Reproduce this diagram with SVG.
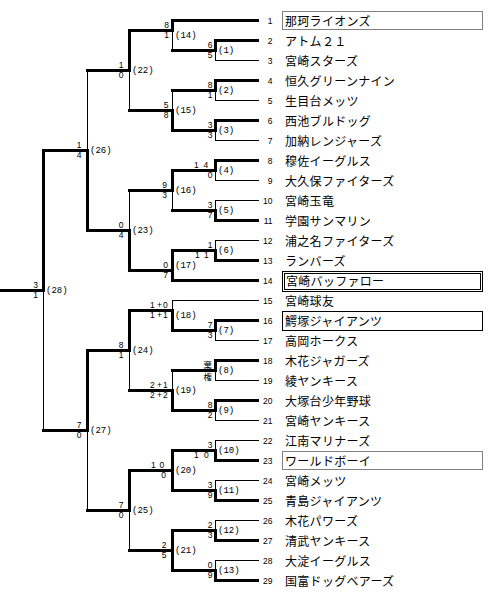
<svg xmlns="http://www.w3.org/2000/svg" width="500" height="601" viewBox="0 0 500 601">
<style>
.t{stroke:#000;stroke-width:1;fill:none;stroke-linecap:square}
.k{stroke:#000;stroke-width:3;fill:none;stroke-linecap:square;stroke-linejoin:miter}
.n{font-family:"Liberation Sans",Arial,sans-serif;font-size:8.5px;text-anchor:end;fill:#000}
.nm{font-family:"Noto Sans CJK JP",sans-serif;font-size:12px;fill:#000;letter-spacing:0.3px}
.s{font-family:"Liberation Sans",Arial,sans-serif;font-size:8.5px;text-anchor:end;fill:#000}
.sp{font-family:"Liberation Sans",Arial,sans-serif;font-size:8.5px;fill:#000}
.kj{font-family:"Noto Sans CJK JP",sans-serif;font-size:8.5px;text-anchor:end;fill:#000}
.l{font-family:"Liberation Mono","Courier New",monospace;font-size:9px;fill:#000}
.bx{fill:none;stroke:#000;stroke-width:1}
.dt{stroke-dasharray:1 1}
</style>
<rect width="500" height="601" fill="#fff"/>
<g id="connectors">
<path class="t" d="M215.5 40.5V60.5M215.5 80.5V100.5M215.5 120.5V140.5M215.5 160.5V180.5M215.5 200.5V220.5M215.5 240.5V260.5M215.5 320.5V340.5M215.5 360.5V380.5M215.5 400.5V420.5M215.5 440.5V460.5M215.5 480.5V500.5M215.5 520.5V540.5M215.5 560.5V580.5M172.5 20.5V50.5M172.5 90.5V130.5M172.5 170.5V210.5M172.5 250.5V280.5M172.5 300.5V330.5M172.5 370.5V410.5M172.5 450.5V490.5M172.5 530.5V570.5M129.5 30.5V110.5M129.5 190.5V270.5M129.5 310.5V390.5M129.5 470.5V550.5M87.5 70.5V230.5M87.5 350.5V510.5M43.5 150.5V430.5"/>
<path class="t" d="M215.5 60.5H258.5M215.5 100.5H258.5M215.5 140.5H258.5M215.5 180.5H258.5M215.5 200.5H258.5M215.5 240.5H258.5M172.5 300.5H258.5M215.5 340.5H258.5M215.5 380.5H258.5M215.5 420.5H258.5M215.5 440.5H258.5M215.5 480.5H258.5M215.5 520.5H258.5M215.5 560.5H258.5"/>
<path class="k" d="M172.5 20.5H257.5M215.5 40.5H257.5M215.5 80.5H257.5M215.5 120.5H257.5M215.5 160.5H257.5M215.5 220.5H257.5M215.5 260.5H257.5M172.5 280.5H257.5M215.5 320.5H257.5M215.5 360.5H257.5M215.5 400.5H257.5M215.5 460.5H257.5M215.5 500.5H257.5M215.5 540.5H257.5M215.5 580.5H257.5"/>
<path class="k" d="M215.5 40.5V50.5M215.5 80.5V90.5M215.5 120.5V130.5M215.5 160.5V170.5M215.5 210.5V220.5M215.5 250.5V260.5M215.5 320.5V330.5M215.5 360.5V370.5M215.5 400.5V410.5M215.5 450.5V460.5M215.5 490.5V500.5M215.5 530.5V540.5M215.5 570.5V580.5M172.5 20.5V30.5M172.5 110.5V130.5M172.5 170.5V190.5M172.5 250.5V280.5M172.5 310.5V330.5M172.5 390.5V410.5M172.5 450.5V490.5M172.5 530.5V570.5M129.5 30.5V70.5M129.5 230.5V270.5M129.5 310.5V350.5M129.5 470.5V510.5M87.5 150.5V230.5M87.5 350.5V430.5M43.5 150.5V290.5"/>
<path class="k" d="M172.5 50.5H215.5M172.5 90.5H215.5M172.5 130.5H215.5M172.5 170.5H215.5M172.5 210.5H215.5M172.5 250.5H215.5M172.5 330.5H215.5M172.5 370.5H215.5M172.5 410.5H215.5M172.5 450.5H215.5M172.5 490.5H215.5M172.5 530.5H215.5M172.5 570.5H215.5M129.5 30.5H172.5M129.5 110.5H172.5M129.5 190.5H172.5M129.5 270.5H172.5M129.5 310.5H172.5M129.5 390.5H172.5M129.5 470.5H172.5M129.5 550.5H172.5M87.5 70.5H129.5M87.5 230.5H129.5M87.5 350.5H129.5M87.5 510.5H129.5M43.5 150.5H87.5M43.5 430.5H87.5M1.5 290.5H43.5"/>
</g>
<g id="teams">
<g id="team1"><rect class="bx dt" x="282.5" y="11.5" width="200" height="18"/><text class="n" x="272.5" y="24">1</text><text class="nm" x="285" y="25.5">那珂ライオンズ</text></g>
<g id="team2"><text class="n" x="272.5" y="44">2</text><text class="nm" x="285" y="45.5">アトム２１</text></g>
<g id="team3"><text class="n" x="272.5" y="64">3</text><text class="nm" x="285" y="65.5">宮崎スターズ</text></g>
<g id="team4"><text class="n" x="272.5" y="84">4</text><text class="nm" x="285" y="85.5">恒久グリーンナイン</text></g>
<g id="team5"><text class="n" x="272.5" y="104">5</text><text class="nm" x="285" y="105.5">生目台メッツ</text></g>
<g id="team6"><text class="n" x="272.5" y="124">6</text><text class="nm" x="285" y="125.5">西池ブルドッグ</text></g>
<g id="team7"><text class="n" x="272.5" y="144">7</text><text class="nm" x="285" y="145.5">加納レンジャーズ</text></g>
<g id="team8"><text class="n" x="272.5" y="164">8</text><text class="nm" x="285" y="165.5">穆佐イーグルス</text></g>
<g id="team9"><text class="n" x="272.5" y="184">9</text><text class="nm" x="285" y="185.5">大久保ファイターズ</text></g>
<g id="team10"><text class="n" x="272.5" y="204">10</text><text class="nm" x="285" y="205.5">宮崎玉竜</text></g>
<g id="team11"><text class="n" x="272.5" y="224">11</text><text class="nm" x="285" y="225.5">学園サンマリン</text></g>
<g id="team12"><text class="n" x="272.5" y="244">12</text><text class="nm" x="285" y="245.5">浦之名ファイターズ</text></g>
<g id="team13"><text class="n" x="272.5" y="264">13</text><text class="nm" x="285" y="265.5">ランバーズ</text></g>
<g id="team14"><rect class="bx" x="282.5" y="271.5" width="200" height="20"/><rect class="bx" x="284.5" y="273.5" width="196" height="16"/><text class="n" x="272.5" y="284">14</text><text class="nm" x="286" y="285.5">宮崎バッファロー</text></g>
<g id="team15"><text class="n" x="272.5" y="304">15</text><text class="nm" x="285" y="305.5">宮崎球友</text></g>
<g id="team16"><rect class="bx" x="282.5" y="311.5" width="200" height="19"/><text class="n" x="272.5" y="324">16</text><text class="nm" x="285" y="325.5">鰐塚ジャイアンツ</text></g>
<g id="team17"><text class="n" x="272.5" y="344">17</text><text class="nm" x="285" y="345.5">高岡ホークス</text></g>
<g id="team18"><text class="n" x="272.5" y="364">18</text><text class="nm" x="285" y="365.5">木花ジャガーズ</text></g>
<g id="team19"><text class="n" x="272.5" y="384">19</text><text class="nm" x="285" y="385.5">綾ヤンキース</text></g>
<g id="team20"><text class="n" x="272.5" y="404">20</text><text class="nm" x="285" y="405.5">大塚台少年野球</text></g>
<g id="team21"><text class="n" x="272.5" y="424">21</text><text class="nm" x="285" y="425.5">宮崎ヤンキース</text></g>
<g id="team22"><text class="n" x="272.5" y="444">22</text><text class="nm" x="285" y="445.5">江南マリナーズ</text></g>
<g id="team23"><rect class="bx dt" x="282.5" y="451.5" width="200" height="18"/><text class="n" x="272.5" y="464">23</text><text class="nm" x="285" y="465.5">ワールドボーイ</text></g>
<g id="team24"><text class="n" x="272.5" y="484">24</text><text class="nm" x="285" y="485.5">宮崎メッツ</text></g>
<g id="team25"><text class="n" x="272.5" y="504">25</text><text class="nm" x="285" y="505.5">青島ジャイアンツ</text></g>
<g id="team26"><text class="n" x="272.5" y="524">26</text><text class="nm" x="285" y="525.5">木花パワーズ</text></g>
<g id="team27"><text class="n" x="272.5" y="544">27</text><text class="nm" x="285" y="545.5">清武ヤンキース</text></g>
<g id="team28"><text class="n" x="272.5" y="564">28</text><text class="nm" x="285" y="565.5">大淀イーグルス</text></g>
<g id="team29"><text class="n" x="272.5" y="584">29</text><text class="nm" x="285" y="585.5">国富ドッグベアーズ</text></g>
</g>
<g id="matches">
<g id="m1"><text class="s" x="212.5" y="47.5">6</text><text class="s" x="212.5" y="57.5">5</text><text class="l" x="218" y="53">(1)</text></g>
<g id="m2"><text class="s" x="212.5" y="87.5">8</text><text class="s" x="212.5" y="97.5">1</text><text class="l" x="218" y="93">(2)</text></g>
<g id="m3"><text class="s" x="212.5" y="127.5">3</text><text class="s" x="212.5" y="137.5">3</text><text class="l" x="218" y="133">(3)</text></g>
<g id="m4"><text class="sp" x="194 203.5" y="167.5">14</text><text class="s" x="212.5" y="177.5">0</text><text class="l" x="218" y="173">(4)</text></g>
<g id="m5"><text class="s" x="212.5" y="207.5">3</text><text class="s" x="212.5" y="217.5">7</text><text class="l" x="218" y="213">(5)</text></g>
<g id="m6"><text class="s" x="212.5" y="247.5">1</text><text class="sp" x="195 204" y="257.5">11</text><text class="l" x="218" y="253">(6)</text></g>
<g id="m7"><text class="s" x="212.5" y="327.5">7</text><text class="s" x="212.5" y="337.5">3</text><text class="l" x="218" y="333">(7)</text></g>
<g id="m8"><text class="kj" x="212" y="368">棄</text><text class="kj" x="212" y="379.5">権</text><text class="l" x="218" y="373">(8)</text></g>
<g id="m9"><text class="s" x="212.5" y="407.5">8</text><text class="s" x="212.5" y="417.5">2</text><text class="l" x="218" y="413">(9)</text></g>
<g id="m10"><text class="s" x="212.5" y="447.5">3</text><text class="sp" x="194 204" y="457.5">10</text><text class="l" x="218" y="453">(10)</text></g>
<g id="m11"><text class="s" x="212.5" y="487.5">3</text><text class="s" x="212.5" y="497.5">9</text><text class="l" x="218" y="493">(11)</text></g>
<g id="m12"><text class="s" x="212.5" y="527.5">2</text><text class="s" x="212.5" y="537.5">3</text><text class="l" x="218" y="533">(12)</text></g>
<g id="m13"><text class="s" x="212.5" y="567.5">0</text><text class="s" x="212.5" y="577.5">9</text><text class="l" x="218" y="573">(13)</text></g>
<g id="m14"><text class="s" x="169" y="27.5">8</text><text class="s" x="169" y="37.5">1</text><text class="l" x="175" y="38">(14)</text></g>
<g id="m15"><text class="s" x="168.5" y="107.5">5</text><text class="s" x="168.5" y="117.5">8</text><text class="l" x="175" y="113">(15)</text></g>
<g id="m16"><text class="s" x="167" y="187.5">9</text><text class="s" x="167" y="197.5">3</text><text class="l" x="175" y="193">(16)</text></g>
<g id="m17"><text class="s" x="168" y="267.5">0</text><text class="s" x="168" y="277.5">7</text><text class="l" x="175" y="268">(17)</text></g>
<g id="m18"><text class="sp" x="150 154 157 163" y="307.5">1 +0</text><text class="sp" x="150 154 157 163" y="317.5">1 +1</text><text class="l" x="175" y="318">(18)</text></g>
<g id="m19"><text class="sp" x="150 154 157 163" y="387.5">2 +1</text><text class="sp" x="150 154 157 163" y="397.5">2 +2</text><text class="l" x="175" y="393">(19)</text></g>
<g id="m20"><text class="sp" x="151 159.5" y="467.5">10</text><text class="s" x="166" y="477.5">0</text><text class="l" x="175" y="473">(20)</text></g>
<g id="m21"><text class="s" x="166.5" y="547.5">2</text><text class="s" x="166.5" y="557.5">5</text><text class="l" x="175" y="553">(21)</text></g>
<g id="m22"><text class="s" x="123.5" y="67.5">1</text><text class="s" x="123.5" y="77.5">0</text><text class="l" x="132" y="73">(22)</text></g>
<g id="m23"><text class="s" x="123.5" y="227.5">0</text><text class="s" x="123.5" y="237.5">4</text><text class="l" x="132" y="233">(23)</text></g>
<g id="m24"><text class="s" x="123.5" y="347.5">8</text><text class="s" x="123.5" y="357.5">1</text><text class="l" x="132" y="353">(24)</text></g>
<g id="m25"><text class="s" x="123.5" y="507.5">7</text><text class="s" x="123.5" y="517.5">0</text><text class="l" x="132" y="513">(25)</text></g>
<g id="m26"><text class="s" x="81.5" y="147.5">1</text><text class="s" x="81.5" y="157.5">4</text><text class="l" x="90" y="153">(26)</text></g>
<g id="m27"><text class="s" x="81.5" y="427.5">7</text><text class="s" x="81.5" y="437.5">0</text><text class="l" x="90" y="433">(27)</text></g>
<g id="m28"><text class="s" x="38" y="287.5">3</text><text class="s" x="38" y="297.5">1</text><text class="l" x="46" y="293">(28)</text></g>
</g>
</svg>
